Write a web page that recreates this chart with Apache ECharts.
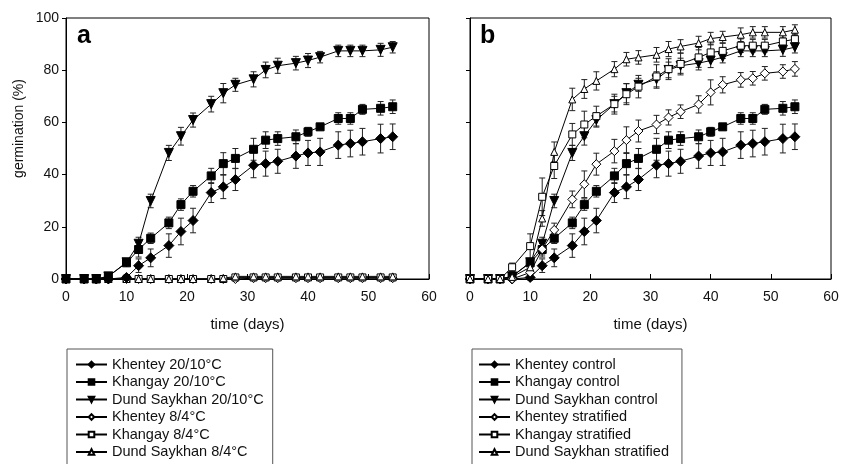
<!DOCTYPE html>
<html>
<head>
<meta charset="utf-8">
<script src="https://cdn.jsdelivr.net/npm/echarts@6/dist/echarts.min.js"></script>
<style>
  html, body { margin: 0; padding: 0; background: #fff; }
  #chart { width: 848px; height: 464px; }
</style>
</head>
<body>
<div id="chart"></div>
<script>
// days of observation (same for every series)
const days = [0, 3, 5, 7, 10, 12, 14, 17, 19, 21, 24, 26, 28, 31, 33, 35, 38, 40, 42, 45, 47, 49, 52, 54]

// 20/10°C (= control)
const khenteyWarm = [0, 0, 0, 0, 0.6, 5.1, 8.1, 12.8, 18.2, 22.4, 33.1, 35.3, 38.1, 43.6, 44.2, 45.1, 47.1, 48.3, 48.7, 51.3, 51.9, 52.6, 53.8, 54.5]
const khenteyWarmErr = [0, 0, 0, 0, 1, 2.6, 3.4, 4.5, 5.1, 4.7, 3.8, 4.5, 4.2, 4.8, 4.8, 4.6, 4.7, 4.8, 5.2, 5.1, 5.1, 5.1, 5.5, 4.9]
const khangayWarm = [0, 0, 0, 1, 6.2, 11.3, 15.6, 21.5, 28.5, 33.6, 39.5, 44.2, 46.2, 49.7, 53.2, 53.8, 54.5, 56.4, 58.3, 61.5, 61.5, 65, 65.4, 66]
const khangayWarmErr = [0, 0, 0, 0.5, 1, 2.9, 2, 2.2, 2.2, 2.2, 2.9, 4.2, 3.8, 4.2, 3.2, 2.6, 2.6, 1.7, 1, 2.2, 2.2, 1.9, 2.6, 2.6]
const dundWarm = [0, 0, 0, 1, 6.4, 13.5, 29.9, 48.3, 54.7, 60.9, 67, 71.2, 74.4, 76.5, 80.1, 81.7, 82.7, 83.7, 85, 87.4, 87.4, 87.4, 87.8, 88.8]
const dundWarmErr = [0, 0, 0, 0.5, 1, 2.5, 2.6, 2.9, 3.4, 2.7, 3, 3.7, 2.5, 2.9, 3, 2.9, 2.6, 2.7, 2.2, 2.2, 2.2, 2.2, 2.5, 2.2]

// 8/4°C
const khenteyCold = [0, 0, 0, 0, 0, 0, 0, 0, 0, 0, 0, 0, 0, 0.3, 0.3, 0.3, 0.3, 0.3, 0.3, 0.3, 0.3, 0.3, 0.3, 0.3]
const khangayCold = [0, 0, 0, 0, 0, 0, 0, 0, 0, 0, 0, 0, 0.6, 0.6, 0.6, 0.6, 0.6, 0.6, 0.6, 0.6, 0.6, 0.6, 0.6, 0.6]
const dundCold = [0, 0, 0, 0, 0, 0, 0, 0, 0, 0, 0, 0.3, 1, 1, 1, 1, 1, 1, 1, 1, 1, 1, 1, 1]
const coldErr = [0, 0, 0, 0, 0, 0, 0, 0, 0, 0, 0, 0, 0.5, 0.5, 0.5, 0.5, 0.5, 0.5, 0.5, 0.5, 0.5, 0.5, 0.5, 0.5]

// stratified
const khenteyStrat = [0, 0, 0, 0, 2.5, 11.4, 18.8, 30.5, 36.3, 44, 49, 53.2, 56.7, 59.2, 61.9, 64.1, 66.9, 71.5, 74.4, 76.3, 76.9, 78.8, 79.5, 80.5]
const khenteyStratErr = [0, 0, 0, 0, 1, 2.2, 2.6, 3.2, 5.1, 4.2, 4.5, 5.1, 4.2, 3.5, 2.9, 2.6, 3.3, 4.8, 3.1, 2.8, 2.6, 2.6, 2.6, 2.8]
const khangayStrat = [0, 0, 0, 4.5, 12.6, 31.5, 43.3, 55.4, 59.2, 62.4, 67, 70.8, 73.7, 77.6, 80.4, 82.4, 84.9, 86.8, 87.4, 89.4, 89.4, 89.4, 91, 91.9]
const khangayStratErr = [0, 0, 0, 1.6, 4.7, 7.2, 4.8, 4.2, 5.1, 3.8, 3.8, 4, 4.3, 4.5, 4, 4.2, 3.8, 3.2, 2.9, 2.6, 2.4, 2.4, 2.6, 2.4]
const dundStrat = [0, 0, 0, 0.8, 4.5, 23.2, 48.7, 68.8, 72.8, 75.9, 80.4, 84.2, 84.9, 85.9, 88.1, 89.1, 90.4, 92.1, 92.7, 93.6, 94.5, 94.5, 94.5, 95.5]
const dundStratErr = [0, 0, 0, 0.5, 1.5, 3, 3.8, 4.3, 3.6, 3.5, 2.9, 2.6, 2.6, 2.8, 2.9, 2.6, 2.6, 2.4, 2.2, 2.6, 2.2, 2.2, 2.2, 1.9]

const FONT = 'Liberation Sans, Arial, sans-serif'

const filled = { color: '#000', borderColor: '#000', borderWidth: 1 }
const open = { color: '#fff', borderColor: '#000', borderWidth: 1 }

const marks = {
  diamond: { symbol: 'diamond', size: 10, rotate: 0 },
  square: { symbol: 'rect', size: 8, rotate: 0 },
  down: { symbol: 'triangle', size: 9, rotate: 180 },
  up: { symbol: 'triangle', size: 8, rotate: 0 }
}

function lineSeries(name, values, panel, mark, style) {
  let m = marks[mark]
  return {
    name: name,
    type: 'line',
    xAxisIndex: panel,
    yAxisIndex: panel,
    data: days.map((d, i) => [d, values[i]]),
    symbol: m.symbol,
    symbolSize: style === open ? m.size - 1 : m.size,
    symbolRotate: m.rotate,
    showAllSymbol: true,
    lineStyle: { color: '#000', width: 1 },
    itemStyle: style,
    z: 3
  }
}

function errSeries(values, errs, panel) {
  return {
    type: 'custom',
    xAxisIndex: panel,
    yAxisIndex: panel,
    silent: true,
    z: 2,
    encode: { x: 0, y: [1, 2] },
    data: days.map((d, i) => [d, values[i] - errs[i], values[i] + errs[i]]),
    renderItem: (params, api) => {
      let lo = api.coord([api.value(0), api.value(1)])
      let hi = api.coord([api.value(0), api.value(2)])
      if (Math.abs(lo[1] - hi[1]) < 1) return null
      let w = 3
      let st = { stroke: '#222', lineWidth: 1 }
      return {
        type: 'group',
        children: [
          { type: 'line', shape: { x1: lo[0], y1: lo[1], x2: hi[0], y2: hi[1] }, style: st },
          { type: 'line', shape: { x1: lo[0] - w, y1: lo[1], x2: lo[0] + w, y2: lo[1] }, style: st },
          { type: 'line', shape: { x1: hi[0] - w, y1: hi[1], x2: hi[0] + w, y2: hi[1] }, style: st }
        ]
      }
    }
  }
}

function xAxis(panel) {
  return {
    gridIndex: panel,
    type: 'value',
    min: 0, max: 60, interval: 10,
    name: 'time (days)',
    nameLocation: 'middle',
    nameGap: 38,
    nameTextStyle: { fontFamily: FONT, fontSize: 15, color: '#111' },
    axisLine: { lineStyle: { color: '#000', width: 1 } },
    axisTick: { inside: true, length: 5, lineStyle: { color: '#000' } },
    axisLabel: { fontFamily: FONT, fontSize: 14, color: '#111', margin: 11 },
    splitLine: { show: false }
  }
}

function yAxis(panel) {
  return {
    gridIndex: panel,
    type: 'value',
    min: 0, max: 100, interval: 20,
    name: panel === 0 ? 'germination (%)' : '',
    nameLocation: 'middle',
    nameGap: 40,
    nameTextStyle: { fontFamily: FONT, fontSize: 14, color: '#111', padding: [0, 0, 0, 40] },
    axisLine: { show: true, lineStyle: { color: '#000', width: 1 } },
    axisTick: { show: true, length: 4, lineStyle: { color: '#000' } },
    axisLabel: { show: panel === 0, fontFamily: FONT, fontSize: 14, color: '#111', margin: 7 },
    splitLine: { show: false }
  }
}

const namesA = ['Khentey 20/10°C', 'Khangay 20/10°C', 'Dund Saykhan 20/10°C', 'Khentey 8/4°C', 'Khangay 8/4°C', 'Dund Saykhan 8/4°C']
const namesB = ['Khentey control', 'Khangay control', 'Dund Saykhan control', 'Khentey stratified', 'Khangay stratified', 'Dund Saykhan stratified']

function legend(left, names, padLeft, padRight) {
  return {
    orient: 'vertical',
    left: left,
    top: 349,
    height: 160,
    data: names,
    itemWidth: 31,
    itemHeight: 7,
    itemGap: 2.5,
    padding: [8, padRight, 30, padLeft],
    borderColor: '#555',
    borderWidth: 1,
    borderRadius: 0,
    selectedMode: false,
    textStyle: { fontFamily: FONT, fontSize: 14.5, color: '#111', lineHeight: 15 }
  }
}

const chart = echarts.init(document.getElementById('chart'), null, { renderer: 'canvas' })

chart.setOption({
  animation: false,
  backgroundColor: '#fff',
  grid: [
    { left: 66, top: 18, width: 363, height: 261, show: true, borderColor: '#000', borderWidth: 1, backgroundColor: 'transparent' },
    { left: 470, top: 18, width: 361, height: 261, show: true, borderColor: '#000', borderWidth: 1, backgroundColor: 'transparent' }
  ],
  xAxis: [xAxis(0), xAxis(1)],
  yAxis: [yAxis(0), yAxis(1)],
  legend: [legend(67, namesA, 8, 9), legend(472, namesB, 6, 13)],
  graphic: [
    { type: 'text', left: 77, top: 24, style: { text: 'a', font: 'bold 25px ' + FONT, fill: '#000' } },
    { type: 'text', left: 480, top: 24, style: { text: 'b', font: 'bold 25px ' + FONT, fill: '#000' } }
  ],
  series: [
    errSeries(khenteyCold, coldErr, 0),
    errSeries(khangayCold, coldErr, 0),
    errSeries(dundCold, coldErr, 0),
    errSeries(khenteyWarm, khenteyWarmErr, 0),
    errSeries(khangayWarm, khangayWarmErr, 0),
    errSeries(dundWarm, dundWarmErr, 0),
    lineSeries(namesA[3], khenteyCold, 0, 'diamond', open),
    lineSeries(namesA[4], khangayCold, 0, 'square', open),
    lineSeries(namesA[5], dundCold, 0, 'up', open),
    lineSeries(namesA[0], khenteyWarm, 0, 'diamond', filled),
    lineSeries(namesA[1], khangayWarm, 0, 'square', filled),
    lineSeries(namesA[2], dundWarm, 0, 'down', filled),

    errSeries(khenteyWarm, khenteyWarmErr, 1),
    errSeries(khangayWarm, khangayWarmErr, 1),
    errSeries(dundWarm, dundWarmErr, 1),
    errSeries(khenteyStrat, khenteyStratErr, 1),
    errSeries(khangayStrat, khangayStratErr, 1),
    errSeries(dundStrat, dundStratErr, 1),
    lineSeries(namesB[0], khenteyWarm, 1, 'diamond', filled),
    lineSeries(namesB[1], khangayWarm, 1, 'square', filled),
    lineSeries(namesB[2], dundWarm, 1, 'down', filled),
    lineSeries(namesB[3], khenteyStrat, 1, 'diamond', open),
    lineSeries(namesB[4], khangayStrat, 1, 'square', open),
    lineSeries(namesB[5], dundStrat, 1, 'up', open)
  ]
})
</script>
</body>
</html>
